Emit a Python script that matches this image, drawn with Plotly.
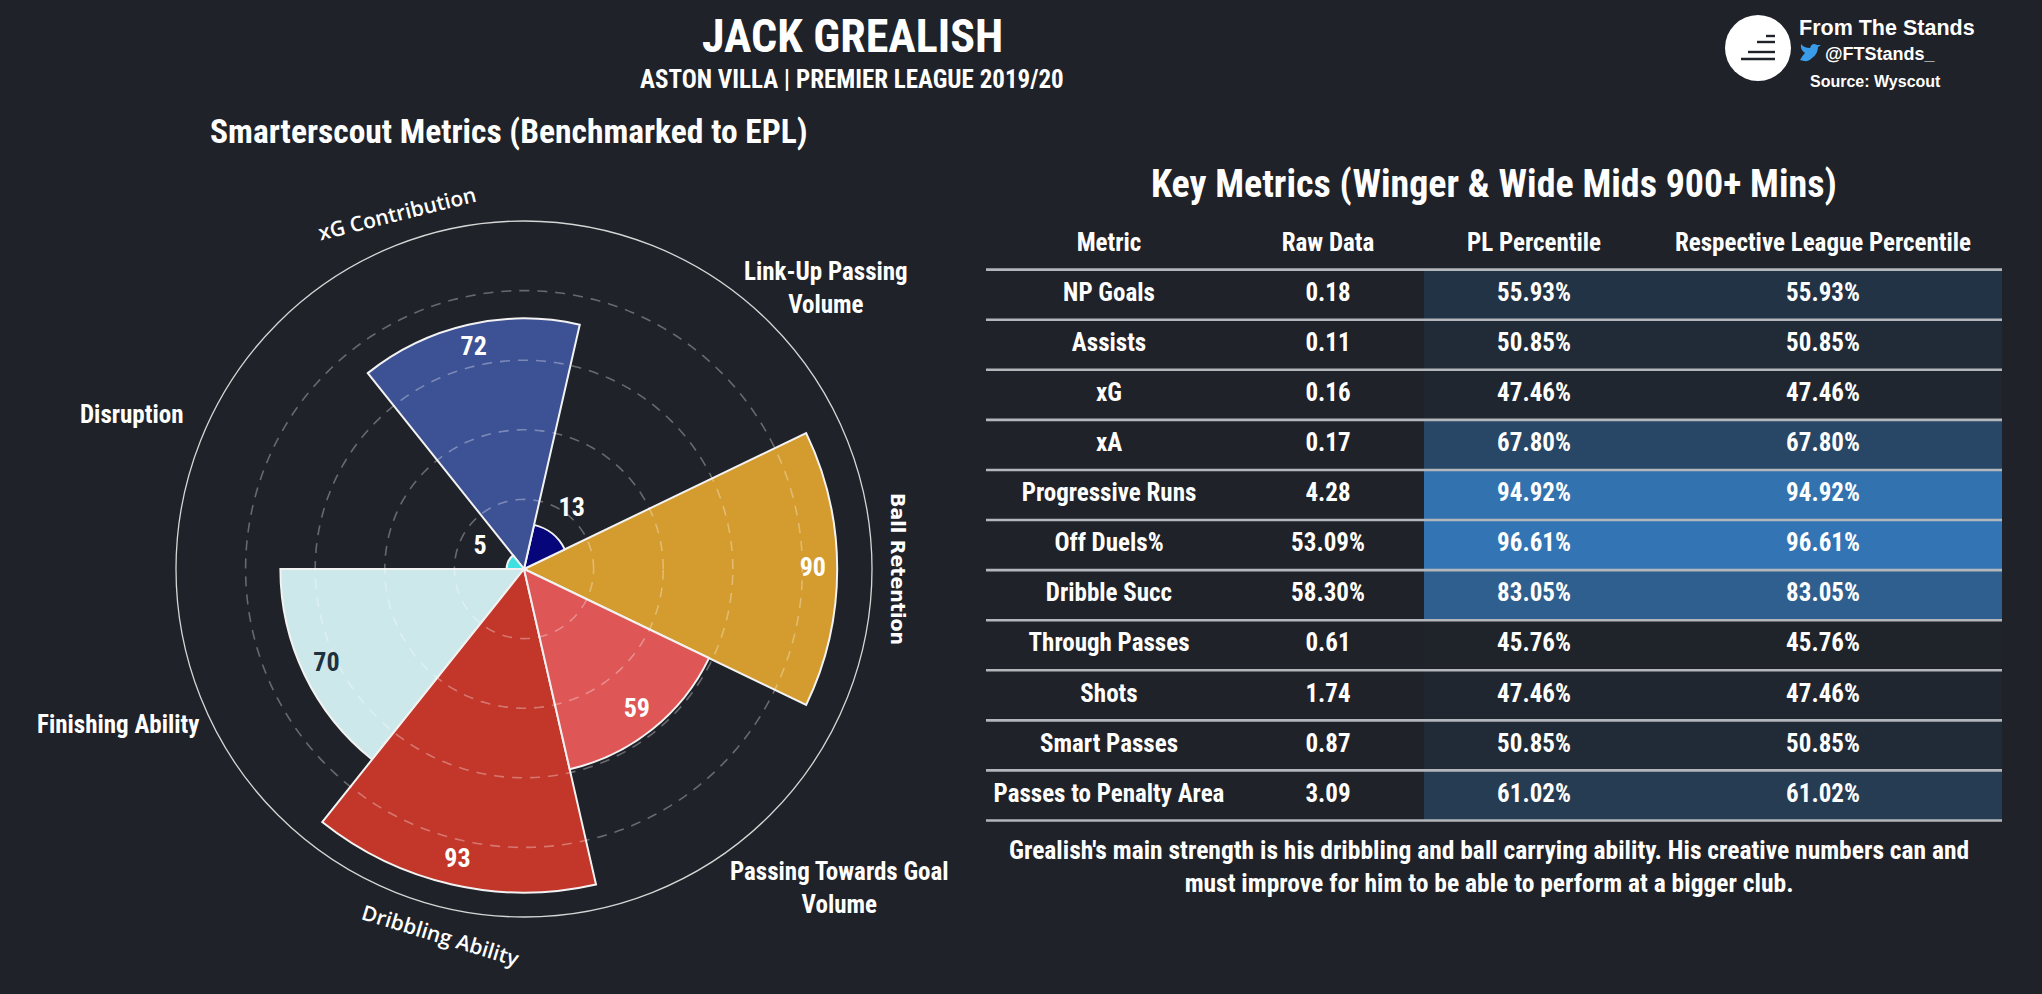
import numpy as np
import plotly.graph_objects as go

# ---------------- data ----------------
radar_categories = ["Ball Retention", "Link-Up Passing<br>Volume", "xG Contribution", "Disruption",
                    "Finishing Ability", "Dribbling Ability", "Passing Towards Goal<br>Volume"]
radar_values = [90, 13, 72, 5, 70, 93, 59]
radar_colors = ["#d49b2e", "#06067a", "#3d5195", "#3fe0e0", "#cde8ea", "#c3362a", "#de5656"]
radar_text_colors = ["white", "white", "white", "white", "#1d3140", "white", "white"]
ring_values = [20, 40, 60, 80]

metrics = ["NP Goals", "Assists", "xG", "xA", "Progressive Runs", "Off Duels%", "Dribble Succ",
           "Through Passes", "Shots", "Smart Passes", "Passes to Penalty Area"]
raw_data = ["0.18", "0.11", "0.16", "0.17", "4.28", "53.09%", "58.30%", "0.61", "1.74", "0.87", "3.09"]
pl_percentile = [55.93, 50.85, 47.46, 67.80, 94.92, 96.61, 83.05, 45.76, 47.46, 50.85, 61.02]
league_percentile = [55.93, 50.85, 47.46, 67.80, 94.92, 96.61, 83.05, 45.76, 47.46, 50.85, 61.02]
table_headers = ["Metric", "Raw Data", "PL Percentile", "Respective League Percentile"]

# ---------------- style ----------------
W, H = 2042, 994
BG = "#1f2228"
NARROW = "Liberation Sans Narrow, Arial Narrow, Roboto Condensed, sans-serif"
WIDE = "Open Sans, Noto Sans, sans-serif"

fig = go.Figure()

# ---------------- polar chart ----------------
n = len(radar_categories)
step = 360 / n
thetas = [i * step for i in range(n)]
cx_px, cy_px, R = 524, 569, 348  # centre (from top-left) and radius in px

fig.add_trace(go.Barpolar(
    r=radar_values, theta=thetas, width=[step] * n,
    marker=dict(color=radar_colors, line=dict(color="#f2f2f2", width=2)),
    hoverinfo="skip", showlegend=False))

ring_theta = np.linspace(0, 360, 361)
for rv in ring_values:
    fig.add_trace(go.Scatterpolar(
        r=[rv] * len(ring_theta), theta=ring_theta, mode="lines",
        line=dict(color="rgba(255,255,255,0.32)", width=1.6, dash="10px,8px"),
        hoverinfo="skip", showlegend=False))

label_r = [v - 7 if v >= 20 else v + 9 for v in radar_values]
fig.add_trace(go.Scatterpolar(
    r=label_r, theta=thetas, mode="text",
    text=[str(v) for v in radar_values],
    textfont=dict(color=radar_text_colors, size=26, family=NARROW, weight="bold"),
    hoverinfo="skip", showlegend=False))

fig.update_layout(polar=dict(
    domain=dict(x=[(cx_px - R) / W, (cx_px + R) / W],
                y=[(H - cy_px - R) / H, (H - cy_px + R) / H]),
    bgcolor="rgba(0,0,0,0)",
    angularaxis=dict(rotation=0, direction="counterclockwise", showline=True,
                     linecolor="#d6d6d6", linewidth=1.3, showgrid=False,
                     showticklabels=False, ticks=""),
    radialaxis=dict(range=[0, 100], showgrid=False, showline=False,
                    showticklabels=False, ticks=""),
))

annotations = []
# rotated labels: radius factor, font family, size, weight, text angle
rotated = {"xG Contribution": (1.08, WIDE, 21, 600, -14),
           "Ball Retention": (1.075, "DejaVu Sans, sans-serif", 19, "bold", 90),
           "Dribbling Ability": (1.08, WIDE, 21, 600, 17)}
# small pixel nudges (x right, y down) for label placement
label_nudge = {"Link-Up Passing<br>Volume": (-16, 13), "Disruption": (0, 9),
               "Finishing Ability": (16, -8), "Passing Towards Goal<br>Volume": (-30, 25),
               "xG Contribution": (-43, 10)}
for cat, th in zip(radar_categories, thetas):
    rad = np.deg2rad(th)
    ndx, ndy = label_nudge.get(cat, (0, 0))
    if cat in rotated:
        f, fam, sz, wt, ang = rotated[cat]
        x = (cx_px + f * R * np.cos(rad) + ndx) / W
        y = (H - cy_px + f * R * np.sin(rad) - ndy) / H
        annotations.append(dict(x=x, y=y, xref="paper", yref="paper", text=cat, showarrow=False,
                                textangle=ang, xanchor="center", yanchor="middle",
                                font=dict(size=sz, color="white", family=fam, weight=wt)))
    else:
        f = 1.08
        x = (cx_px + f * R * np.cos(rad) + ndx) / W
        y = (H - cy_px + f * R * np.sin(rad) - ndy) / H
        annotations.append(dict(x=x, y=y, xref="paper", yref="paper", text=cat, showarrow=False,
                                xanchor="left" if np.cos(rad) > 0 else "right", yanchor="middle",
                                align="center",
                                font=dict(size=25, color="white", family=NARROW, weight="bold")))

# ---------------- table ----------------
col_widths = [246, 192, 220, 358]
tx0, tx1 = 986, 2002
row_px = 50.08
last_line_px = 820.5
nrows = len(metrics)
y_top_val, y_bot_val = -1.5, nrows - 0.5 + 0.12
bot_px = last_line_px + 0.12 * row_px
top_px = bot_px - (y_bot_val - y_top_val) * row_px
edges = np.concatenate([[0], np.cumsum(col_widths)])
centers = (edges[:-1] + edges[1:]) / 2

fig.add_trace(go.Heatmap(
    x=edges[2:], y=list(range(nrows)),
    z=[[p, l] for p, l in zip(pl_percentile, league_percentile)],
    zmin=45, zmax=97, colorscale=[[0, BG], [1, "#3375b5"]], showscale=False,
    hoverinfo="skip", xaxis="x", yaxis="y"))

line_x, line_y = [], []
for i in range(nrows + 1):
    line_x += [0, edges[-1], None]
    line_y += [i - 0.5, i - 0.5, None]
fig.add_trace(go.Scatter(x=line_x, y=line_y, mode="lines",
                         line=dict(color="#b3b7bb", width=2.6), hoverinfo="skip", showlegend=False))

cols = [metrics, raw_data, [f"{v:.2f}%" for v in pl_percentile], [f"{v:.2f}%" for v in league_percentile]]
for ci, col in enumerate(cols):
    fig.add_trace(go.Scatter(
        x=[centers[ci]] * (nrows + 1), y=[-1] + list(range(nrows)),
        text=[table_headers[ci]] + list(col), mode="text",
        textfont=dict(color="white", size=25, family=NARROW, weight="bold"),
        hoverinfo="skip", showlegend=False))

fig.update_layout(
    xaxis=dict(domain=[tx0 / W, tx1 / W], range=[0, edges[-1]], visible=False, fixedrange=True),
    yaxis=dict(domain=[(H - bot_px) / H, (H - top_px) / H], range=[y_bot_val, y_top_val],
               visible=False, fixedrange=True),
)

# ---------------- titles & text ----------------
def txt(x, y, text, size, family=NARROW, color="white", weight="bold", xanchor="center", align="center"):
    annotations.append(dict(x=x / W, y=1 - y / H, xref="paper", yref="paper", text=text, showarrow=False,
                            xanchor=xanchor, yanchor="middle", align=align,
                            font=dict(size=size, color=color, family=family, weight=weight)))

txt(852, 36, "JACK GREALISH", 46)
txt(852, 79, "ASTON VILLA | PREMIER LEAGUE 2019/20", 25)
txt(509, 132, "Smarterscout Metrics (Benchmarked to EPL)", 33.5)
txt(1494, 184, "Key Metrics (Winger &amp; Wide Mids 900+ Mins)", 38)
txt(1489, 866, "Grealish's main strength is his dribbling and ball carrying ability. His creative numbers can and<br>"
               "must improve for him to be able to perform at a bigger club.", 25.5)

# logo
txt(1797, 28, "From The Stands", 21.5, family="Liberation Sans, sans-serif", xanchor="left")
txt(1823, 54, "@FTStands_", 18, family="Liberation Sans, sans-serif", xanchor="left")
txt(1808, 82, "Source: Wyscout", 16, family="Liberation Sans, sans-serif", xanchor="left")

shapes = [dict(type="circle", xref="paper", yref="paper",
               x0=(1758 - 33) / W, x1=(1758 + 33) / W, y0=1 - (48 + 33) / H, y1=1 - (48 - 33) / H,
               fillcolor="white", line=dict(width=0))]
for (yy, xa) in [(36, 1766), (42, 1757), (52, 1748), (59, 1741)]:
    shapes.append(dict(type="line", xref="paper", yref="paper", x0=xa / W, x1=1775 / W,
                       y0=1 - yy / H, y1=1 - yy / H, line=dict(color="#1f2228", width=2.4)))
# twitter bird (simple)
shapes.append(dict(type="path", xref="paper", yref="paper", fillcolor="#3a9be8", line=dict(width=0),
                   path=" ".join([
                       f"M {1800/W} {1-60/H}",
                       f"Q {1808/W} {1-63/H} {1812/W} {1-58/H}",
                       f"Q {1818/W} {1-54/H} {1818/W} {1-47/H}",
                       f"L {1821/W} {1-45/H}",
                       f"L {1817/W} {1-45/H}",
                       f"Q {1812/W} {1-42/H} {1810/W} {1-48/H}",
                       f"Q {1804/W} {1-48/H} {1801/W} {1-44/H}",
                       f"Q {1800/W} {1-50/H} {1805/W} {1-53/H}",
                       f"Q {1802/W} {1-56/H} {1800/W} {1-60/H} Z"])))

fig.update_layout(
    width=W, height=H, margin=dict(l=0, r=0, t=0, b=0),
    paper_bgcolor=BG, plot_bgcolor="rgba(0,0,0,0)",
    annotations=annotations, shapes=shapes, showlegend=False,
)

fig.write_html("out.html", config={"displayModeBar": False},
               post_script="document.body.style.margin='0px';document.body.style.overflow='hidden';"
                           "document.body.style.background='#1f2228';")
